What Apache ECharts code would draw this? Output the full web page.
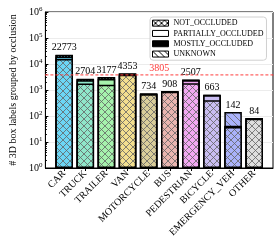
<!DOCTYPE html>
<html>
<head>
<meta charset="utf-8">
<script src="https://cdn.jsdelivr.net/npm/echarts@6/dist/echarts.min.js"></script>
<style>html,body{margin:0;padding:0;background:#fff}#c{width:274px;height:247px}</style>
</head>
<body>
<div id="c"></div>
<script>
const categories = ['CAR','TRUCK','TRAILER','VAN','MOTORCYCLE','BUS','PEDESTRIAN','BICYCLE','EMERGENCY_VEH','OTHER'];
const notOccluded       = [15500, 1760, 1590, 3900, 690, 860, 1800, 402, 38, 79];
const partiallyOccluded = [3600,   600, 1050,  350,  35,  38,  550, 220,  3,  3];
const mostlyOccluded    = [3000,   300,  450,   80,   6,   7,  120,  35,  1,  1];
const unknownOcc        = [673,     44,   87,   23,   3,   3,   37,   6, 100,  1];
const totals = [22773, 2704, 3177, 4353, 734, 908, 2507, 663, 142, 84];
const meanTotal = 3805;
const seriesNames = ['NOT_OCCLUDED','PARTIALLY_OCCLUDED','MOSTLY_OCCLUDED','UNKNOWN'];

const barColors = ['#6cd6f5','#8fe6c9','#a6f2ad','#f3df8f','#d9cd9a','#e9b5b0','#f2a8f2','#c9bdf2','#aab2fa','#dedede'];
const FONT = 'Liberation Serif';
const X_MIN = -0.89, X_MAX = 9.89;

function pattern(bg, kind, lineColor, s) {
  s = s || 7;
  const c = document.createElement('canvas');
  c.width = s; c.height = s;
  const g = c.getContext('2d');
  g.fillStyle = bg; g.fillRect(0, 0, s, s);
  g.strokeStyle = lineColor; g.lineWidth = 1;
  g.beginPath();
  if (kind === 'cross' || kind === 'back') { g.moveTo(-1, -1); g.lineTo(s + 1, s + 1); }
  if (kind === 'cross' || kind === 'fwd') { g.moveTo(-1, s + 1); g.lineTo(s + 1, -1); }
  g.stroke();
  return { image: c, repeat: 'repeat' };
}

const HATCH = 'rgba(100,100,100,0.8)';
const styleFns = [
  (col) => pattern(col, 'cross', HATCH, 7),
  (col) => col,
  (col) => pattern(col, 'cross', '#111', 3),
  (col) => pattern(col, 'back', HATCH, 7)
];
const dataSets = [notOccluded, partiallyOccluded, mostlyOccluded, unknownOcc];

// cumulative tops of each segment (bottom segment first)
const cumulative = dataSets.map((arr, si) =>
  arr.map((v, i) => dataSets.slice(0, si + 1).reduce((s, a) => s + a[i], 0)));

const RED = '#ff3b3b';
// draw from the top segment downwards so the lower segments cover the taller bars
const order = [3, 2, 1, 0];
const series = order.map((si) => ({
  name: seriesNames[si],
  type: 'bar',
  barWidth: 17.5,
  barGap: '-100%',
  z: 2 + (3 - si),
  itemStyle: { color: '#fff', borderColor: '#000', borderWidth: 1.5 },
  data: cumulative[si].map((v, i) => ({
    value: [i, v],
    itemStyle: { color: styleFns[si](barColors[i]), borderColor: '#000', borderWidth: 1.5 }
  })),
  label: si === 3 ? {
    show: true, position: 'top', distance: 2,
    formatter: (p) => String(totals[p.dataIndex]),
    fontFamily: FONT, fontSize: 10, color: '#000'
  } : { show: false }
}));

// mean line drawn as a dashed line series across the plot
series.push({
  name: 'mean', type: 'line', z: 20, silent: true,
  symbol: 'circle', symbolSize: 1, showSymbol: true,
  itemStyle: { color: RED },
  lineStyle: { color: RED, type: [3, 2], width: 1 },
  label: { show: false },
  data: [
    { value: [X_MIN, meanTotal] },
    { value: [(X_MIN + X_MAX) / 2, meanTotal],
      label: { show: true, position: 'top', distance: 1, formatter: String(meanTotal), color: RED, fontFamily: FONT, fontSize: 10 } },
    { value: [X_MAX, meanTotal] }
  ]
});

const legendStyles = [
  { color: pattern('#fff', 'cross', '#000', 6), borderColor: '#000', borderWidth: 1 },
  { color: '#fff', borderColor: '#000', borderWidth: 1 },
  { color: '#000', borderColor: '#000', borderWidth: 1 },
  { color: pattern('#fff', 'back', '#000', 6), borderColor: '#000', borderWidth: 1 }
];

const chart = echarts.init(document.getElementById('c'), null, { renderer: 'canvas' });
chart.setOption({
  animation: false,
  textStyle: { fontFamily: FONT },
  grid: { left: 35, right: 1, top: 12, bottom: 79, show: true, borderColor: '#000', borderWidth: 1 },
  legend: {
    orient: 'vertical', left: 150, top: 17,
    itemWidth: 16, itemHeight: 6, itemGap: 2,
    padding: [2, 3, 2, 2],
    borderColor: '#d0d0d0', borderWidth: 1, borderRadius: 3,
    backgroundColor: 'rgba(255,255,255,0.85)',
    textStyle: { fontFamily: FONT, fontSize: 8, color: '#000', lineHeight: 8.3 },
    data: seriesNames.map((n, i) => ({ name: n, icon: 'rect', itemStyle: legendStyles[i] }))
  },
  xAxis: {
    type: 'value', min: X_MIN, max: X_MAX,
    splitLine: { show: false },
    axisLine: { onZero: false, lineStyle: { color: '#000', width: 1 } },
    axisTick: { show: true, customValues: categories.map((c, i) => i), length: 3, lineStyle: { color: '#000' } },
    axisLabel: {
      customValues: categories.map((c, i) => i),
      formatter: (v) => categories[Math.round(v)] || '',
      rotate: 45, margin: 4, fontFamily: FONT, fontSize: 10, color: '#000'
    }
  },
  yAxis: {
    type: 'log', logBase: 10, min: 1, max: 1e6,
    name: '# 3D box labels grouped by occlusion',
    nameLocation: 'middle', nameGap: 22, nameRotate: 90,
    nameTextStyle: { fontFamily: FONT, fontSize: 10, color: '#000' },
    axisLine: { show: true, onZero: false, lineStyle: { color: '#000', width: 1 } },
    axisTick: { show: true, inside: true, length: 3, lineStyle: { color: '#000' } },
    minorTick: { show: true, splitNumber: 9, length: 1.5, lineStyle: { color: '#000' } },
    splitLine: { show: true, lineStyle: { color: '#ececec', width: 1 } },
    axisLabel: {
      margin: 3,
      formatter: (v) => '{b|10}{s|' + Math.round(Math.log10(v)) + '}',
      rich: {
        b: { fontFamily: FONT, fontSize: 10, color: '#000', lineHeight: 12 },
        s: { fontFamily: FONT, fontSize: 7, color: '#000', lineHeight: 7, verticalAlign: 'top' }
      }
    }
  },
  series: series
});
</script>
</body>
</html>
